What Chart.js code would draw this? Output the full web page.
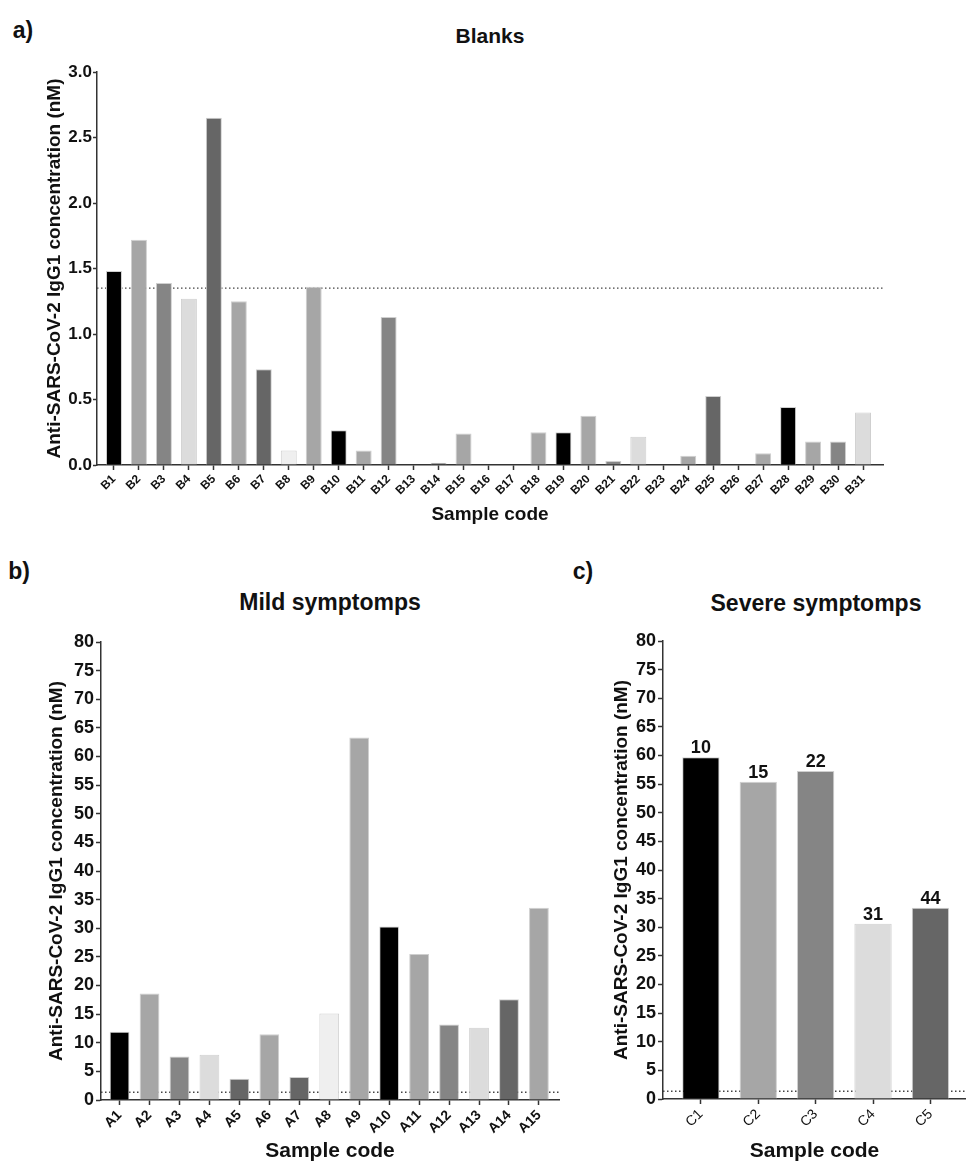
<!DOCTYPE html>
<html>
<head>
<meta charset="utf-8">
<script src="https://cdn.jsdelivr.net/npm/chart.js@4.4.0/dist/chart.umd.min.js"></script>
<style>
  html, body { margin: 0; padding: 0; background: #fff; }
  body { width: 966px; height: 1164px; position: relative; overflow: hidden; font-family: "Liberation Sans", Arial, sans-serif; }
  .box { position: absolute; }
  .lbl { position: absolute; font-weight: bold; color: #111; white-space: nowrap; transform: translate(-50%, -50%); }
</style>
</head>
<body>
<div class="lbl" style="left:23px;top:30px;font-size:23px">a)</div>
<div class="lbl" style="left:490px;top:36px;font-size:21px">Blanks</div>
<div class="lbl" style="left:19px;top:571px;font-size:23px">b)</div>
<div class="lbl" style="left:330px;top:602px;font-size:23px">Mild symptomps</div>
<div class="lbl" style="left:583px;top:571px;font-size:23px">c)</div>
<div class="lbl" style="left:816px;top:603px;font-size:23px">Severe symptomps</div>

<div class="box" style="left:0;top:0;width:966px;height:526px"><canvas id="chartBlanks"></canvas></div>
<div class="box" style="left:0;top:560px;width:580px;height:604px"><canvas id="chartMild"></canvas></div>
<div class="box" style="left:580px;top:560px;width:386px;height:604px"><canvas id="chartSevere"></canvas></div>

<script>
// cut-off level (dotted line), nM
const THRESHOLD = 1.35;

const blankCodes = ['B1', 'B2', 'B3', 'B4', 'B5', 'B6', 'B7', 'B8', 'B9', 'B10',
    'B11', 'B12', 'B13', 'B14', 'B15', 'B16', 'B17', 'B18', 'B19', 'B20',
    'B21', 'B22', 'B23', 'B24', 'B25', 'B26', 'B27', 'B28', 'B29', 'B30', 'B31'];
const blankValues = [1.48, 1.72, 1.39, 1.27, 2.65, 1.25, 0.73, 0.11, 1.36, 0.265,
    0.11, 1.13, 0, 0.018, 0.24, 0, 0, 0.25, 0.25, 0.376,
    0.03, 0.216, 0, 0.071, 0.527, 0, 0.09, 0.443, 0.18, 0.18, 0.40];

const mildCodes = ['A1', 'A2', 'A3', 'A4', 'A5', 'A6', 'A7', 'A8', 'A9', 'A10',
    'A11', 'A12', 'A13', 'A14', 'A15'];
const mildValues = [11.9, 18.6, 7.6, 7.9, 3.7, 11.5, 4.0, 15.1, 63.3, 30.3,
    25.5, 13.2, 12.6, 17.6, 33.6];

const severeCodes = ['C1', 'C2', 'C3', 'C4', 'C5'];
const severeValues = [59.7, 55.4, 57.3, 30.6, 33.4];
const severeTags = ['10', '15', '22', '31', '44'];

// grey cycle used by the original software
const shades = ['#000000', '#a6a6a6', '#858585', '#dcdcdc', '#666666',
    '#a6a6a6', '#666666', '#efefef', '#a6a6a6'];

const FONT = '"Liberation Sans", Arial, sans-serif';
Chart.defaults.font.family = FONT;
Chart.defaults.color = '#111';

function tagPlugin(tags) {
    return {
        id: 'barTags',
        afterDatasetsDraw(chart) {
            const meta = chart.getDatasetMeta(0);
            const ctx = chart.ctx;
            ctx.save();
            ctx.font = 'bold 18px ' + FONT;
            ctx.fillStyle = '#111';
            ctx.textAlign = 'center';
            ctx.textBaseline = 'bottom';
            meta.data.forEach((bar, i) => ctx.fillText(tags[i], bar.x, bar.y));
            ctx.restore();
        }
    };
}

function drawPanel(id, p) {
    const points = p.values.map((v, i) => ({ x: i, y: v }));

    new Chart(document.getElementById(id), {
        type: 'bar',
        data: {
            datasets: [
                {
                    type: 'bar',
                    data: points,
                    backgroundColor: p.values.map((_, i) => shades[i % shades.length]),
                    borderColor: '#cfcfcf',
                    borderWidth: 1,
                    categoryPercentage: 1,
                    barPercentage: p.barPct,
                    order: 1
                },
                {
                    type: 'line',
                    data: [{ x: p.xMin, y: THRESHOLD }, { x: p.xMax, y: THRESHOLD }],
                    borderColor: '#444',
                    borderWidth: 1.3,
                    borderDash: [1.5, 2.5],
                    pointRadius: 0,
                    order: 2
                }
            ]
        },
        options: {
            responsive: true,
            maintainAspectRatio: false,
            animation: false,
            layout: { padding: p.pad },
            plugins: {
                legend: { display: false },
                tooltip: { enabled: false }
            },
            scales: {
                x: {
                    type: 'linear',
                    min: p.xMin,
                    max: p.xMax,
                    offset: false,
                    afterBuildTicks: axis => { axis.ticks = p.codes.map((_, i) => ({ value: i })); },
                    afterFit: axis => { axis.height = p.xHeight; },
                    border: { color: '#333', width: 1.5 },
                    grid: { offset: false, drawOnChartArea: false, tickLength: 5, tickColor: '#333', tickWidth: 1.5 },
                    ticks: {
                        autoSkip: false,
                        minRotation: 45,
                        maxRotation: 45,
                        padding: 2,
                        color: '#111',
                        font: p.xTickFont,
                        callback: v => p.codes[v]
                    },
                    title: {
                        display: true,
                        text: 'Sample code',
                        color: '#111',
                        font: p.xTitleFont,
                        padding: { top: 0, bottom: 0 }
                    }
                },
                y: {
                    min: 0,
                    max: p.yMax,
                    afterFit: axis => { axis.width = p.yWidth; },
                    border: { color: '#333', width: 1.5 },
                    grid: { drawOnChartArea: false, tickLength: p.yTickLen, tickColor: '#333', tickWidth: 1.5 },
                    ticks: {
                        stepSize: p.yStep,
                        padding: p.yTickPad,
                        color: '#111',
                        font: p.yTickFont,
                        callback: v => v.toFixed(p.decimals)
                    },
                    title: {
                        display: true,
                        text: 'Anti-SARS-CoV-2 IgG1 concentration (nM)',
                        color: '#111',
                        font: p.yTitleFont,
                        padding: { top: p.yTitlePad, bottom: 0 }
                    }
                }
            }
        },
        plugins: p.tags ? [tagPlugin(p.tags)] : []
    });
}

drawPanel('chartBlanks', {
    codes: blankCodes, values: blankValues,
    xMin: -0.68, xMax: 30.8, barPct: 0.64,
    pad: { left: 0, top: 72, right: 83, bottom: 0 },
    yWidth: 97, xHeight: 61,
    yMax: 3, yStep: 0.5, decimals: 1, yTickLen: 4, yTickPad: 1,
    xTickFont: { size: 12, weight: 'bold' },
    xTitleFont: { size: 19, weight: 'bold' },
    yTickFont: { size: 17, weight: 'bold' },
    yTitleFont: { size: 19, weight: 'bold' },
    yTitlePad: 43
});

drawPanel('chartMild', {
    codes: mildCodes, values: mildValues,
    xMin: -0.62, xMax: 14.67, barPct: 0.66,
    pad: { left: 0, top: 82, right: 21, bottom: 0 },
    yWidth: 101, xHeight: 64,
    yMax: 80, yStep: 5, decimals: 0, yTickLen: 5, yTickPad: 2,
    xTickFont: { size: 14, weight: 'bold' },
    xTitleFont: { size: 21, weight: 'bold' },
    yTickFont: { size: 18, weight: 'bold' },
    yTitleFont: { size: 19, weight: 'bold' },
    yTitlePad: 45
});

drawPanel('chartSevere', {
    codes: severeCodes, values: severeValues, tags: severeTags,
    xMin: -0.66, xMax: 4.62, barPct: 0.65,
    pad: { left: 0, top: 81, right: 0, bottom: 0 },
    yWidth: 83, xHeight: 65,
    yMax: 80, yStep: 5, decimals: 0, yTickLen: 5, yTickPad: 2,
    xTickFont: { size: 14, weight: 'normal' },
    xTitleFont: { size: 21, weight: 'bold' },
    yTickFont: { size: 18, weight: 'bold' },
    yTitleFont: { size: 19, weight: 'bold' },
    yTitlePad: 30
});
</script>
</body>
</html>
